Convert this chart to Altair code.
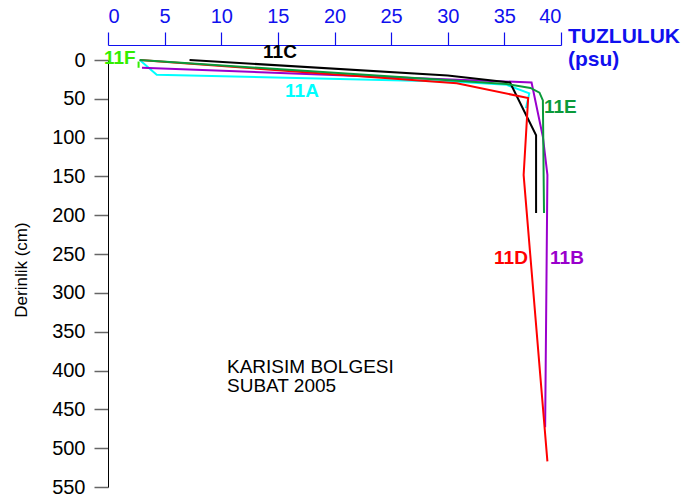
import altair as alt
import pandas as pd

# --- data (salinity psu, depth cm) ---
series_names = ["11A", "11B", "11C", "11D", "11E", "11F"]
sal_11A = [2.8, 4.3, 30.8, 35.2, 37.2, 36.9]
dep_11A = [0, 19, 28, 32, 43, 62]
sal_11B = [3.0, 37.4, 38.4, 38.8, 38.6]
dep_11B = [10, 29, 99, 148, 473]
sal_11C = [7.2, 30.0, 35.5, 37.8, 37.8]
dep_11C = [0, 20, 29, 97, 197]
sal_11D = [2.8, 30.8, 37.1, 36.7, 38.8]
dep_11D = [0, 30, 49, 148, 517]
sal_11E = [2.8, 35.2, 37.3, 38.1, 38.4, 38.5]
dep_11E = [0, 31, 36, 42, 52, 197]
sal_11F = [2.7, 2.7]
dep_11F = [2, 10]

series_colors = ["#00ffff", "#9900cc", "#000000", "#ff0000", "#0a9a3a", "#33ee00"]

x_ticks = [0, 5, 10, 15, 20, 25, 30, 35, 40]
y_ticks = [0, 50, 100, 150, 200, 250, 300, 350, 400, 450, 500, 550]

sal = {"11A": sal_11A, "11B": sal_11B, "11C": sal_11C, "11D": sal_11D, "11E": sal_11E, "11F": sal_11F}
dep = {"11A": dep_11A, "11B": dep_11B, "11C": dep_11C, "11D": dep_11D, "11E": dep_11E, "11F": dep_11F}

rows = []
for s in series_names:
    for i, (x, y) in enumerate(zip(sal[s], dep[s])):
        rows.append({"series": s, "sal": x, "depth": y, "ord": i})
df = pd.DataFrame(rows)

FONT = "Liberation Sans"
BLUE = "#1010ee"

color_scale = alt.Scale(domain=series_names, range=series_colors)

lines = alt.Chart(df).mark_line(strokeWidth=2, clip=False).encode(
    x=alt.X("sal:Q", scale=alt.Scale(domain=[0, 40], nice=False, zero=False),
            axis=alt.Axis(orient="top", values=x_ticks, offset=15, tickSize=13,
                          labelPadding=6, domainColor=BLUE, tickColor=BLUE,
                          labelColor=BLUE, labelFontSize=20, labelFont=FONT,
                          grid=False, title=None, domainWidth=1.2, tickWidth=1.2)),
    y=alt.Y("depth:Q", scale=alt.Scale(domain=[0, 550], reverse=True, nice=False),
            axis=alt.Axis(values=y_ticks, tickSize=14, labelPadding=9,
                          domainColor="#000000", tickColor="#666666",
                          labelColor="#000000", labelFontSize=20, labelFont=FONT,
                          grid=False, title=None, tickWidth=1.5)),
    color=alt.Color("series:N", scale=color_scale, legend=None),
    detail="series:N",
    order="ord:Q",
)

# series labels (pixel positions relative to plot origin)
lab_text = ["11C", "11A", "11E", "11D", "11B", "11F"]
lab_col = ["#000000", "#00ffff", "#0a9a3a", "#ff0000", "#9900cc", "#33ee00"]
lab_px = [172, 194, 436, 403, 459, -4]
lab_py = [-8, 31, 47, 198, 198, -2]
lab_align = ["center", "center", "left", "center", "center", "left"]

layers = [lines]
for t, c, px, py, al in zip(lab_text, lab_col, lab_px, lab_py, lab_align):
    layers.append(
        alt.Chart(pd.DataFrame({"t": [t]})).mark_text(
            fontSize=19, fontWeight="bold", font=FONT, color=c, align=al, baseline="middle"
        ).encode(text="t:N", x=alt.value(px), y=alt.value(py))
    )

# annotations
notes = ["KARISIM BOLGESI", "SUBAT 2005"]
note_py = [307, 326]
for t, py in zip(notes, note_py):
    layers.append(
        alt.Chart(pd.DataFrame({"t": [t]})).mark_text(
            fontSize=19, font=FONT, color="#000000", align="left", baseline="middle"
        ).encode(text="t:N", x=alt.value(119), y=alt.value(py))
    )

units = ["TUZLULUK", "(psu)"]
unit_py = [-23, 0]
for t, py in zip(units, unit_py):
    layers.append(
        alt.Chart(pd.DataFrame({"t": [t]})).mark_text(
            fontSize=21, fontWeight="bold", font=FONT, color=BLUE, align="left", baseline="middle"
        ).encode(text="t:N", x=alt.value(460), y=alt.value(py))
    )

layers.append(
    alt.Chart(pd.DataFrame({"t": ["Derinlik (cm)"]})).mark_text(
        fontSize=17, font=FONT, color="#000000", align="center", baseline="middle", angle=270
    ).encode(text="t:N", x=alt.value(-86), y=alt.value(210))
)

chart = alt.layer(*layers).properties(
    width=453, height=427,
    autosize=alt.AutoSizeParams(type="none"),
    padding={"left": 108, "top": 60, "right": 131, "bottom": 12},
    background="white",
).configure_view(stroke=None)

chart.save("out.html", embed_options={"renderer": "svg", "actions": False})
